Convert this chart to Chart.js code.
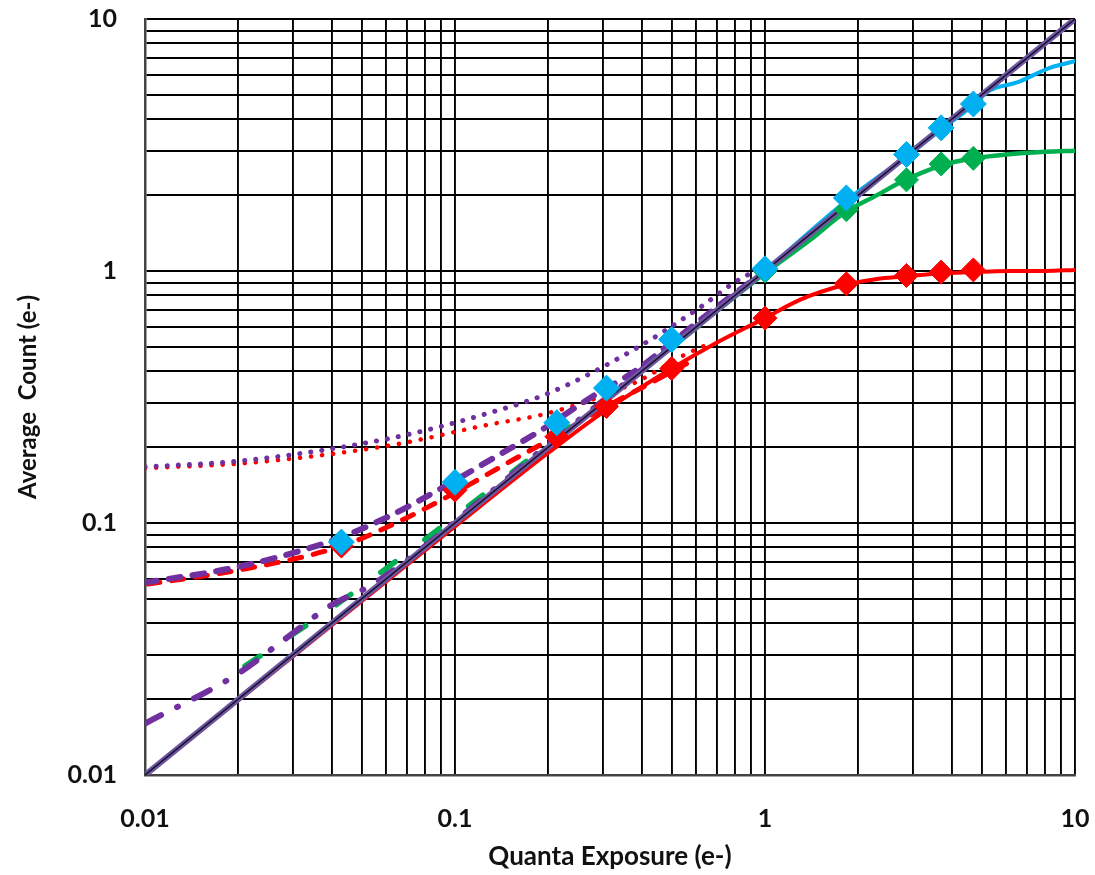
<!DOCTYPE html>
<html>
<head>
<meta charset="utf-8">
<script src="https://cdn.jsdelivr.net/npm/chart.js@4.4.1/dist/chart.umd.min.js"></script>
<style>
  html, body { margin:0; padding:0; background:#fff; }
  #wrap { width:1095px; height:875px; }
</style>
</head>
<body>
<div id="wrap"><canvas id="chart" width="1095" height="875"></canvas></div>
<script>
/* ── Grid and tick labels ── */
const GRID_VALUES = [0.01,0.02,0.03,0.04,0.05,0.06,0.07,0.08,0.09,
                     0.1,0.2,0.3,0.4,0.5,0.6,0.7,0.8,0.9,
                     1,2,3,4,5,6,7,8,9,10];
const LABEL_VALUES = [0.01, 0.1, 1, 10];
const TICK_LABELS  = ['0.01', '0.1', '1', '10'];

/* ── Measured points (diamonds) ── */
const MARK_X   = [0.043, 0.1, 0.213, 0.308, 0.5, 1.0, 1.83, 2.86, 3.7, 4.7];
const CYAN_Y   = [0.084, 0.145, 0.25, 0.343, 0.535, 1.02, 1.95, 2.9, 3.7, 4.6];
const RED_Y    = [0.081, 0.135, 0.22, 0.29, 0.41, 0.65, 0.89, 0.96, 0.99, 1.01];
const GREEN_MX = [1.0, 1.83, 2.86, 3.7, 4.7];
const GREEN_MY = [1.0, 1.75, 2.3, 2.66, 2.8];

/* ── Ideal response ── */
const IDEAL_X = [0.01, 10];
const IDEAL_Y = [0.01, 10];

/* ── Solid saturation curves ── */
const RED_LX   = [0.01,0.02,0.05,0.1,0.2,0.3,0.5,0.7,1,1.3,1.8,2.3,2.8,3.7,4.7,6,8,10];
const RED_LY   = [0.01,0.0198,0.049,0.097,0.19,0.275,0.41,0.52,0.65,0.77,0.88,0.93,0.95,0.98,0.99,1.0,1.0,1.01];
const GREEN_LX = [0.01,0.1,0.5,0.8,1,1.4,1.8,2.3,2.8,3.7,4.7,6,8,10];
const GREEN_LY = [0.01,0.1,0.5,0.79,0.98,1.33,1.7,2.0,2.28,2.62,2.8,2.9,2.97,3.0];
const CYAN_LX  = [1.0,1.83,2.86,3.7,4.7,5.3,6.5,8.3,10];
const CYAN_LY  = [1.0,1.9,2.85,3.65,4.55,5.2,5.6,6.4,6.8];

/* ── Dashed curves ── */
const PUR_DASH_X = [0.01,0.02,0.04,0.06,0.09,0.13,0.19,0.28,0.38,0.5,0.7,1.0];
const PUR_DASH_Y = [0.058,0.067,0.085,0.105,0.137,0.178,0.234,0.32,0.40,0.52,0.72,1.0];
const RED_DASH_X = [0.01,0.02,0.043,0.07,0.1,0.15,0.21,0.3,0.42,0.6];
const RED_DASH_Y = [0.057,0.065,0.081,0.105,0.132,0.175,0.22,0.285,0.355,0.45];

/* ── Dotted curves ── */
const PUR_DOT_X = [0.01,0.02,0.04,0.07,0.127,0.2,0.376,0.62,0.79,1.0];
const PUR_DOT_Y = [0.167,0.176,0.197,0.224,0.272,0.327,0.486,0.72,0.894,1.05];
const RED_DOT_X = [0.01,0.02,0.04,0.067,0.127,0.2,0.376,0.56,0.65];
const RED_DOT_Y = [0.165,0.172,0.188,0.207,0.245,0.273,0.358,0.47,0.51];

/* ── Dash-dot curves ── */
const PUR_DD_X = [0.01,0.02,0.028,0.04,0.055,0.127,0.2,0.3,0.5,0.7,1.0];
const PUR_DD_Y = [0.016,0.0253,0.0343,0.0473,0.0576,0.129,0.205,0.305,0.505,0.705,1.0];
const GRN_DD_X = [0.02,0.04,0.06,0.1,0.2,0.3,0.5,0.7];
const GRN_DD_Y = [0.026,0.046,0.066,0.106,0.206,0.306,0.5,0.69];

const pts = (xs, ys) => xs.map((x, i) => ({ x, y: ys[i] }));

function line(data, color, width, extra) {
  return Object.assign({
    data, showLine:true, borderColor:color, backgroundColor:color,
    borderWidth:width, pointRadius:0, pointHoverRadius:0,
    cubicInterpolationMode:'monotone', borderCapStyle:'round', borderJoinStyle:'round'
  }, extra || {});
}
function marks(data, color, r) {
  return {
    data, showLine:false, pointStyle:'rectRot', pointRadius:r, pointHoverRadius:r,
    backgroundColor:color, borderColor:color, borderWidth:1
  };
}

const PURPLE = '#7030A0';
const FONT = 'Lato, "Open Sans", sans-serif';

// first dataset draws on top
const datasets = [
  marks(pts(MARK_X, CYAN_Y), '#00B0F0', 13),
  marks(pts(GREEN_MX, GREEN_MY), '#00B050', 12),
  marks(pts(MARK_X, RED_Y), '#FF0000', 12),
  line(pts(IDEAL_X, IDEAL_Y), '#1a1030', 1.5),
  line(pts(IDEAL_X, IDEAL_Y), '#6E56A0', 6),
  line(pts(PUR_DD_X, PUR_DD_Y), PURPLE, 6, { borderDash:[18,18,1,18] }),
  line(pts(GRN_DD_X, GRN_DD_Y), '#00B050', 5.5, { borderDash:[18,37], borderDashOffset:47 }),
  line(pts(PUR_DASH_X, PUR_DASH_Y), PURPLE, 6, { borderDash:[12,12] }),
  line(pts(RED_DASH_X, RED_DASH_Y), '#FF0000', 5, { borderDash:[12,12], borderDashOffset:-3 }),
  line(pts(PUR_DOT_X, PUR_DOT_Y), PURPLE, 5, { borderDash:[0.1,11] }),
  line(pts(RED_DOT_X, RED_DOT_Y), '#FF0000', 4.5, { borderDash:[0.1,11] }),
  line(pts(CYAN_LX, CYAN_LY), '#00B0F0', 4),
  line(pts(GREEN_LX, GREEN_LY), '#00B050', 4.5),
  line(pts(RED_LX, RED_LY), '#FF0000', 4),
];

const setGrid = scale => { scale.ticks = GRID_VALUES.map(v => ({ value:v })); };
const labelFor = v => {
  const i = LABEL_VALUES.findIndex(l => Math.abs(l - v) < l * 1e-6);
  return i >= 0 ? TICK_LABELS[i] : '';
};

new Chart(document.getElementById('chart'), {
  type:'scatter',
  data:{ datasets },
  options:{
    responsive:false, animation:false,
    layout:{ padding:{ top:19, right:20, left:0, bottom:0 } },
    plugins:{ legend:{ display:false }, tooltip:{ enabled:false } },
    scales:{
      x:{
        type:'logarithmic', min:0.01, max:10,
        afterBuildTicks:setGrid,
        afterFit:s => { s.height = 100; s.paddingLeft = 0; s.paddingRight = 0; },
        grid:{ color:'#000', lineWidth:1.9, drawTicks:false },
        border:{ color:'#444', width:2.5 },
        ticks:{ autoSkip:false, maxRotation:0, padding:29, color:'#111',
                font:{ family:FONT, size:25, weight:'bold' }, callback:labelFor },
        title:{ display:true, text:'Quanta Exposure (e-)', color:'#111',
                font:{ family:FONT, size:26, weight:'bold' }, padding:{ top:0, bottom:3 } }
      },
      y:{
        type:'logarithmic', min:0.01, max:10,
        afterBuildTicks:setGrid,
        afterFit:s => { s.width = 145; s.paddingTop = 0; s.paddingBottom = 0; },
        grid:{ color:'#000', lineWidth:1.9, drawTicks:false },
        border:{ color:'#444', width:2.5 },
        ticks:{ autoSkip:false, padding:28, color:'#111',
                font:{ family:FONT, size:25, weight:'bold' }, callback:labelFor },
        title:{ display:true, text:'Average  Count (e-)', color:'#111',
                font:{ family:FONT, size:24, weight:'bold' }, padding:{ top:14, bottom:0 } }
      }
    }
  }
});
</script>
</body>
</html>
